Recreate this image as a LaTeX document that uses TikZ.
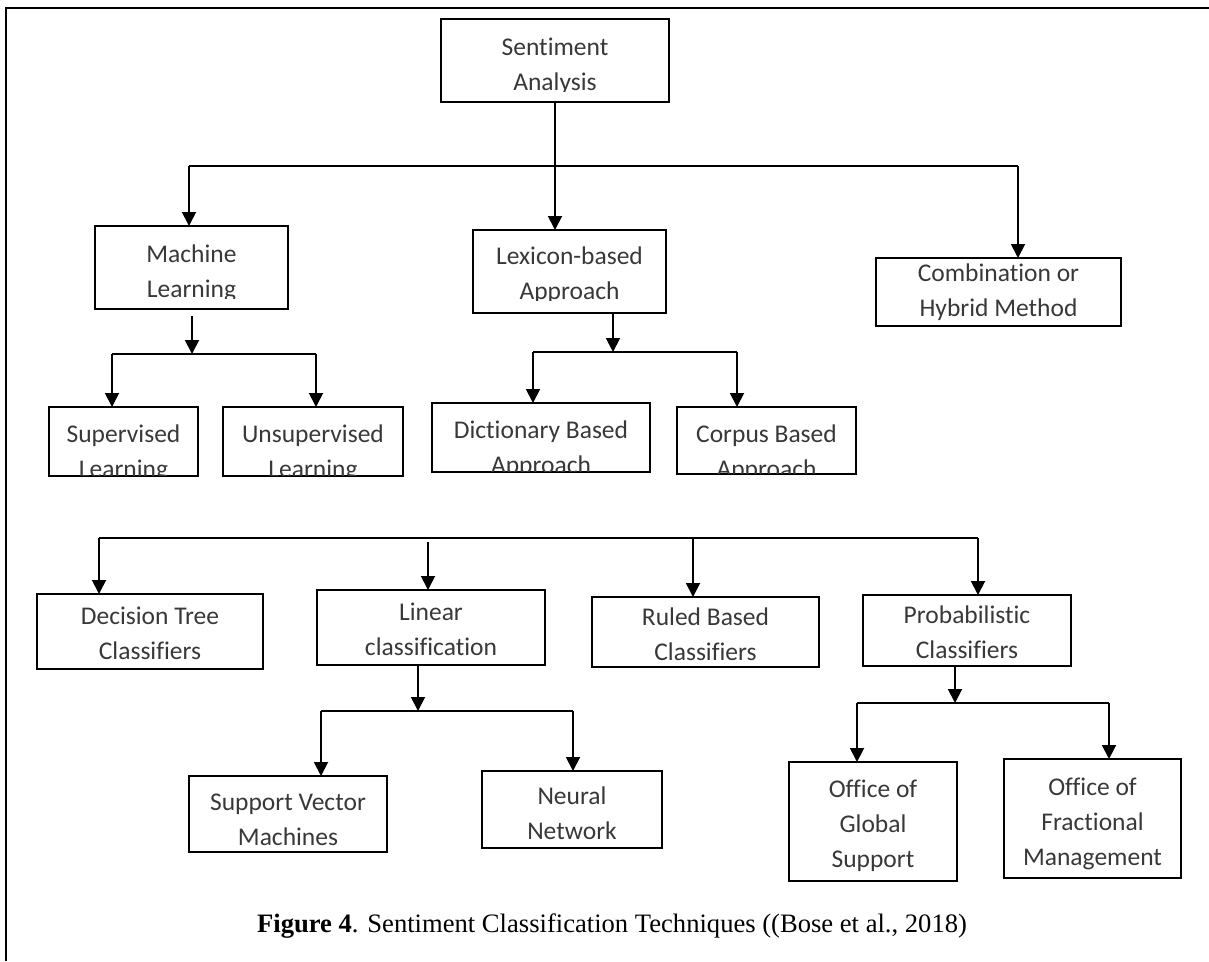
\documentclass[tikz,border=0pt]{standalone}
\usepackage{fontspec}
\setmainfont{Liberation Serif}
\newfontfamily\boxfont{Carlito}[Ligatures=NoCommon]
\usetikzlibrary{arrows.meta}
\definecolor{boxtextgray}{gray}{0.22}

\tikzset{
  frameline/.style={line width=2.2pt, line join=miter},
  boxframe/.style={draw, line width=2pt, rectangle, inner sep=0pt, outer sep=0pt, anchor=north west},
  boxtext/.style={font=\boxfont\fontsize{25.5}{35}\selectfont, text=boxtextgray, align=center, anchor=base, inner sep=0pt},
  link/.style={line width=1.9pt},
  arrowlink/.style={line width=1.9pt, -{Triangle[width=14pt,length=14pt]}},
  captiontext/.style={font=\fontsize{26.6}{30}\selectfont, inner sep=0pt},
}

% #1 name, #2 left, #3 top, #4 right, #5 bottom, #6 baseline of the last text line,
% #7 lowest visible edge of the text, #8 text
\newcommand{\labelbox}[8]{%
  \node[boxframe, minimum width={(#4-#2)*1pt}, minimum height={(#5-#3)*1pt}] (#1) at (#2,#3) {};
  \begin{scope}
    \clip (#2,#3) rectangle (#4,#7);
    \node[boxtext] (#1-text) at ({(#2+#4)/2},#6) {#8};
  \end{scope}
}

\begin{document}
\begin{tikzpicture}[x=1pt, y=-1pt]
  \useasboundingbox (0,0) rectangle (1209,961);

  % open frame: left and top edges
  \draw[frameline] (6,961) -- (6,8) -- (1209,8);

  % boxes
  \labelbox{sa}{441}{19}{669}{102}{90}{91}{Sentiment\\Analysis}
  \labelbox{ml}{95}{226}{288}{309}{297}{298}{Machine\\Learning}
  \labelbox{lex}{473}{230}{666}{313}{299}{300}{Lexicon-based\\Approach}
  \labelbox{comb}{876}{258}{1121}{326}{316}{325}{Combination or\\Hybrid Method}

  \labelbox{sup}{49}{407}{198}{476}{477}{475}{Supervised\\Learning}
  \labelbox{unsup}{223}{407}{403}{476}{477}{475}{Unsupervised\\Learning}
  \labelbox{dict}{432}{403}{650}{472}{473}{471}{Dictionary Based\\Approach}
  \labelbox{corp}{677}{407}{856}{474}{477}{473}{Corpus Based\\Approach}

  \labelbox{dec}{37}{594}{263}{669}{659}{668}{Decision Tree\\Classifiers}
  \labelbox{lin}{317}{590}{545}{665}{655}{664}{Linear\\classification}
  \labelbox{rule}{592}{597}{819}{667}{660}{666}{Ruled Based\\Classifiers}
  \labelbox{prob}{863}{595}{1071}{666}{658}{665}{Probabilistic\\Classifiers}

  \labelbox{svm}{189}{776}{387}{852}{845}{851}{Support Vector\\Machines}
  \labelbox{nn}{482}{771}{662}{848}{839}{847}{Neural\\Network}
  \labelbox{ogs}{789}{762}{957}{881}{867}{880}{Office of\\Global\\Support}
  \labelbox{ofm}{1004}{759}{1181}{878}{865}{877}{Office of\\Fractional\\Management}

  % first level
  \coordinate (topbarL) at (189,166);
  \coordinate (topbarR) at (1018,166);
  \draw[link] (topbarL) -- (topbarR);
  \draw[arrowlink] (topbarL) -- (topbarL |- ml.north);
  \draw[arrowlink] (topbarR) -- (topbarR |- comb.north);
  \draw[arrowlink] (sa.south) -- (sa.south |- lex.north);

  % machine learning branch
  \coordinate (mlstem) at (192,316);
  \coordinate (mlbarL) at (112,354);
  \coordinate (mlbarR) at (316,354);
  \draw[arrowlink] (mlstem) -- (mlstem |- mlbarL);
  \draw[link] (mlbarL) -- (mlbarR);
  \draw[arrowlink] (mlbarL) -- (mlbarL |- sup.north);
  \draw[arrowlink] (mlbarR) -- (mlbarR |- unsup.north);

  % lexicon branch
  \coordinate (lexbarL) at (533,352);
  \coordinate (lexbarR) at (737,352);
  \coordinate (lexbarM) at (613,352);
  \draw[arrowlink] (lex.south -| lexbarM) -- (lexbarM);
  \draw[link] (lexbarL) -- (lexbarR);
  \draw[arrowlink] (lexbarL) -- (lexbarL |- dict.north);
  \draw[arrowlink] (lexbarR) -- (lexbarR |- corp.north);

  % classifier families
  \coordinate (clsbarL) at (99,538);
  \coordinate (clsbarR) at (978,538);
  \coordinate (clsbarM) at (693,538);
  \coordinate (linstem) at (428,542);
  \draw[link] (clsbarL) -- (clsbarR);
  \draw[arrowlink] (clsbarL) -- (clsbarL |- dec.north);
  \draw[arrowlink] (linstem) -- (linstem |- lin.north);
  \draw[arrowlink] (clsbarM) -- (clsbarM |- rule.north);
  \draw[arrowlink] (clsbarR) -- (clsbarR |- prob.north);

  % linear classification branch
  \coordinate (linbarL) at (321,711);
  \coordinate (linbarR) at (573,711);
  \coordinate (linbarM) at (418,711);
  \draw[arrowlink] (lin.south -| linbarM) -- (linbarM);
  \draw[link] (linbarL) -- (linbarR);
  \draw[arrowlink] (linbarL) -- (linbarL |- svm.north);
  \draw[arrowlink] (linbarR) -- (linbarR |- nn.north);

  % probabilistic branch
  \coordinate (probbarL) at (857,703);
  \coordinate (probbarR) at (1109,703);
  \coordinate (probbarM) at (955,703);
  \draw[arrowlink] (prob.south -| probbarM) -- (probbarM);
  \draw[link] (probbarL) -- (probbarR);
  \draw[arrowlink] (probbarL) -- (probbarL |- ogs.north);
  \draw[arrowlink] (probbarR) -- (probbarR |- ofm.north);

  % caption
  \node[captiontext] (caption) at (612,926) {\textbf{Figure 4}. Sentiment Classification Techniques ((Bose et al., 2018)};
\end{tikzpicture}
\end{document}
